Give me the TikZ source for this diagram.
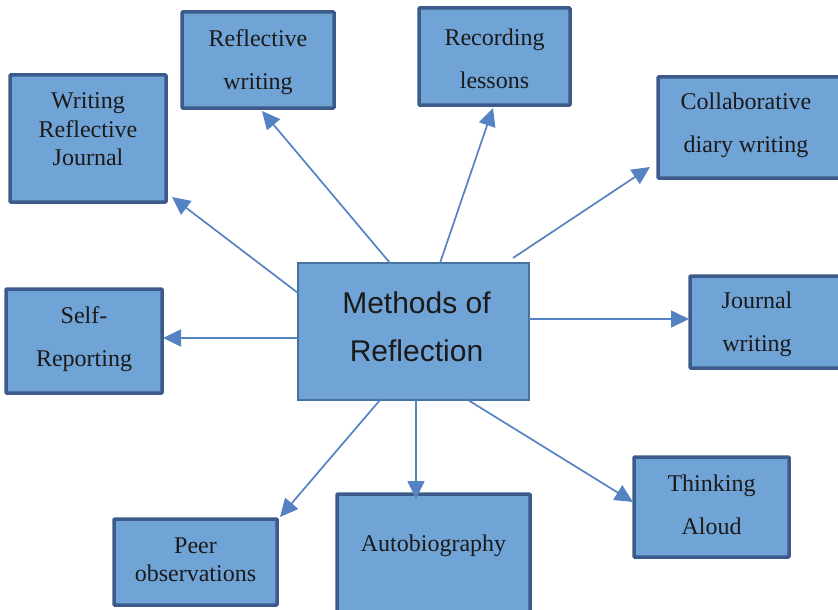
\documentclass[tikz,border=0pt]{standalone}
\usepackage{fontspec}
\setmainfont{Liberation Serif}
\newfontfamily\headfont{Liberation Sans}
\usetikzlibrary{arrows.meta,calc}
\definecolor{boxfill}{RGB}{113,164,214}
\definecolor{boxedge}{RGB}{60,90,138}
\definecolor{cedge}{RGB}{70,114,160}
\definecolor{arrcol}{RGB}{84,130,194}
\definecolor{txtcol}{RGB}{26,26,26}
\tikzset{
  outbox/.style={draw=boxedge, line width=3.5pt, fill=boxfill, rectangle, inner sep=0pt, outer sep=0pt, rounded corners=0.8pt},
  cbox/.style={draw=cedge, line width=2pt, fill=boxfill, rectangle, inner sep=0pt, outer sep=0pt},
  txt/.style={align=center, text=txtcol, inner sep=0pt, font=\fontsize{24}{43}\selectfont},
  txtn/.style={align=center, text=txtcol, inner sep=0pt, font=\fontsize{24}{28.5}\selectfont},
  arr/.style={draw=arrcol, line width=1.7pt, -{Triangle[length=18pt,width=17pt]}},
}
\begin{document}
\begin{tikzpicture}[x=1pt,y=-1pt]
\useasboundingbox (0,0) rectangle (838,610);
% central node
\node[cbox, minimum width=231pt, minimum height=137pt,
  label={[align=center, text=txtcol, inner sep=0pt, font=\headfont\fontsize{30}{48}\selectfont, yshift=5pt, xshift=3pt]center:Methods of\\Reflection}]
  (c) at (413.5,331.5) {};
% outer nodes
\node[outbox, minimum width=156pt, minimum height=127pt,
  label={[txtn, yshift=9pt]center:Writing\\Reflective\\Journal}] (wrj) at (88,138.5) {};
\node[outbox, minimum width=152pt, minimum height=96pt,
  label={[txt, yshift=-2pt]center:Reflective\\writing}] (rw) at (258,60) {};
\node[outbox, minimum width=151pt, minimum height=97pt,
  label={[txt, yshift=-2pt]center:Recording\\lessons}] (rl) at (494.5,56.5) {};
\node[outbox, minimum width=188pt, minimum height=101pt,
  label={[txt, yshift=2pt, xshift=-6pt]center:Collaborative\\diary writing}] (co) at (752,127.5) {};
\node[outbox, minimum width=156pt, minimum height=92pt,
  label={[txt, xshift=-11pt, yshift=-2pt]center:Journal\\writing}] (jw) at (768,322) {};
\node[outbox, minimum width=156pt, minimum height=104pt,
  label={[txt, yshift=2pt]center:Self-\\Reporting}] (sr) at (84,341) {};
\node[outbox, minimum width=155pt, minimum height=100pt,
  label={[txt, yshift=2pt]center:Thinking\\Aloud}] (ta) at (711.5,507) {};
\node[outbox, minimum width=163pt, minimum height=86pt,
  label={[txtn, yshift=2pt]center:Peer\\observations}] (pe) at (195.5,562) {};
\node[outbox, minimum width=193pt, minimum height=122pt,
  label={[txt, yshift=9pt]center:Autobiography}] (au) at (433.5,555) {};
% connectors
\draw[arr] ($(c.north west)+(0,30)$) -- ($(wrj.south east)+(6,-5)$);
\draw[arr] ($(c.north west)+(92,0)$) -- ($(rw.south west)+(80,3)$);
\draw[arr] ($(c.north west)+(142,0)$) -- ($(rl.south west)+(74,3)$);
\draw[arr] ($(c.north west)+(215,-5)$) -- ($(co.south west)+(-8,-11)$);
\draw[arr] ($(c.north east)+(0,56)$) -- ($(jw.north west)+(-1,43)$);
\draw[arr] ($(c.north west)+(0,75)$) -- ($(sr.north east)+(1,49)$);
\draw[arr] ($(c.south west)+(82,0)$) -- ($(pe.north east)+(3,-2)$);
\draw[arr] ($(c.south west)+(118,0)$) -- ($(au.north west)+(79,5)$);
\draw[arr] ($(c.south west)+(170,0)$) -- ($(ta.north west)+(-1,45)$);
\end{tikzpicture}
\end{document}
